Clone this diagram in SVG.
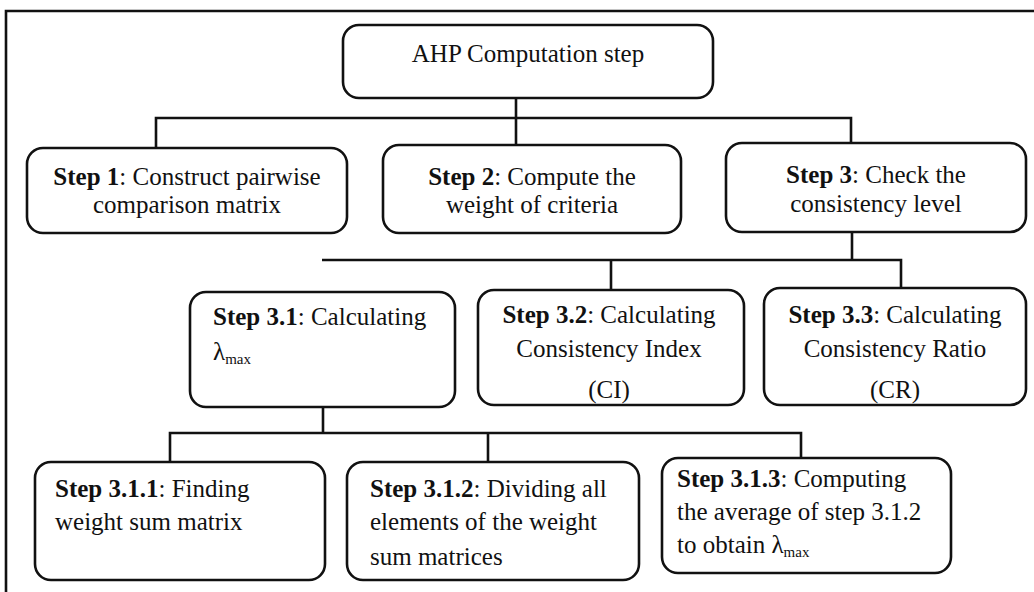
<svg xmlns="http://www.w3.org/2000/svg" width="1034" height="592" viewBox="0 0 1034 592">
<style>
.box{fill:#fff;stroke:#111;stroke-width:2.6}
.ln{stroke:#111;stroke-width:2.6;fill:none}
text{font-family:"Liberation Serif","Times New Roman",serif;font-size:25px;fill:#111}
.c{text-anchor:middle}
.b{font-weight:bold}
.sub{font-size:15px}
</style>
<rect width="1034" height="592" fill="#fff"/>
<g id="frame"><path class="ln" d="M6,592 V11 H1034"/></g>
<g id="connectors">
<path class="ln" d="M516,98 V145 M156,148 V118 H851 V143"/>
<path class="ln" d="M852,232 V260 M322,260 H901 V288 M611,260 V290"/>
<path class="ln" d="M323,407 V433 M170,462 V433 H801 V458 M488,433 V462"/>
</g>
<g id="ahp"><rect class="box" x="343" y="25" width="370" height="73" rx="16"/>
<text class="c" x="528" y="62">AHP Computation step</text></g>
<g id="step1"><rect class="box" x="27" y="148" width="320" height="85" rx="16"/>
<text class="c" x="187" y="185"><tspan class="b">Step 1</tspan>: Construct pairwise</text>
<text class="c" x="187" y="213">comparison matrix</text></g>
<g id="step2"><rect class="box" x="383" y="145" width="298" height="88" rx="16"/>
<text class="c" x="532" y="185"><tspan class="b">Step 2</tspan>: Compute the</text>
<text class="c" x="532" y="213">weight of criteria</text></g>
<g id="step3"><rect class="box" x="726" y="143" width="300" height="89" rx="16"/>
<text class="c" x="876" y="183"><tspan class="b">Step 3</tspan>: Check the</text>
<text class="c" x="876" y="212">consistency level</text></g>
<g id="step3_1"><rect class="box" x="190" y="292" width="265" height="115" rx="16"/>
<text x="213" y="325"><tspan class="b">Step 3.1</tspan>: Calculating</text>
<text x="213" y="360">λ<tspan class="sub" dy="4">max</tspan></text></g>
<g id="step3_2"><rect class="box" x="478" y="290" width="266" height="115" rx="16"/>
<text class="c" x="609" y="323"><tspan class="b">Step 3.2</tspan>: Calculating</text>
<text class="c" x="609" y="357">Consistency Index</text>
<text class="c" x="609" y="398">(CI)</text></g>
<g id="step3_3"><rect class="box" x="764" y="288" width="262" height="117" rx="16"/>
<text class="c" x="895" y="323"><tspan class="b">Step 3.3</tspan>: Calculating</text>
<text class="c" x="895" y="357">Consistency Ratio</text>
<text class="c" x="895" y="398">(CR)</text></g>
<g id="step3_1_1"><rect class="box" x="35" y="462" width="290" height="118" rx="16"/>
<text x="55" y="497"><tspan class="b">Step 3.1.1</tspan>: Finding</text>
<text x="55" y="530">weight sum matrix</text></g>
<g id="step3_1_2"><rect class="box" x="347" y="462" width="292" height="118" rx="16"/>
<text x="370" y="497"><tspan class="b">Step 3.1.2</tspan>: Dividing all</text>
<text x="370" y="530">elements of the weight</text>
<text x="370" y="565">sum matrices</text></g>
<g id="step3_1_3"><rect class="box" x="662" y="458" width="289" height="115" rx="16"/>
<text x="677" y="487"><tspan class="b">Step 3.1.3</tspan>: Computing</text>
<text x="677" y="520">the average of step 3.1.2</text>
<text x="677" y="553">to obtain λ<tspan class="sub" dy="4">max</tspan></text></g>
</svg>
